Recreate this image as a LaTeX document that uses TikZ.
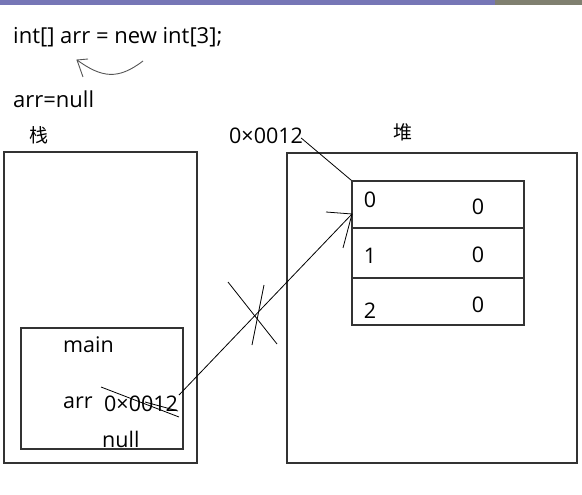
\documentclass[tikz,border=0pt]{standalone}
\usepackage{fontspec}
\setmainfont{Open Sans}
\newfontfamily\cjk{Noto Sans CJK SC}
\definecolor{barblue}{RGB}{118,118,182}
\definecolor{bargray}{RGB}{128,128,112}
\definecolor{pen}{RGB}{85,85,85}

\begin{document}
\begin{tikzpicture}[x=1pt,y=-1pt,every node/.style={inner sep=0pt,font=\fontsize{21.5}{25}\selectfont},
box/.style={draw=black!80,line width=1.3pt,rectangle},
ink/.style={line width=0.8pt,black}]
\useasboundingbox (0,0) rectangle (582,495);
\fill[barblue] (0,0) rectangle (495,5);
\fill[bargray] (495,0) rectangle (582,5);
% code lines
\node[anchor=base west,font=\fontsize{22}{25}\selectfont] (decl) at (13,44) {int[] arr = new int[3];};
\node[anchor=base west,font=\fontsize{22}{25}\selectfont] (setnull) at (13,108) {arr=null};
\draw[pen,line width=0.9pt] (143,61) .. controls (118,80) and (102,78) .. (77,60);
\draw[pen,line width=0.9pt] (88,59) -- (77,60) -- (83,77);
%-------------
\node[box,minimum width=193,minimum height=311] (stack) at (100.5,307.5) {};
\node[font=\cjk\fontsize{19}{22}\selectfont] (stacklbl) at (39,135) {栈};
\node[box,minimum width=162,minimum height=121] (frame) at (102,388.5) {};
\node[anchor=base west] (mainlbl) at (63,352) {main};
\node[anchor=base west] (arrlbl) at (63,408) {arr};
\node[anchor=base west] (addr) at (104,411) {0×0012};
\node[anchor=base west] (nulllbl) at (102,447) {null};
%------------
\node[box,minimum width=290,minimum height=310] (heap) at (432,308) {};
\node[font=\cjk\fontsize{19}{22}\selectfont] (heaplbl) at (403,132) {堆};
\node[anchor=base west] (addrtop) at (229,143) {0×0012};
\node[box,minimum width=172,minimum height=47] (cell0) at (438,204.5) {};
\node[box,minimum width=172,minimum height=50] (cell1) at (438,253) {};
\node[box,minimum width=172,minimum height=47] (cell2) at (438,301.5) {};
\foreach \n/\i/\ya/\yb in {0/0/200/207,1/1/256/255,2/2/311/305}{
\node (idx\n) at (370,\ya) {\i};
\node (val\n) at (478,\yb) {0};
}
%------------
\coordinate (from) at (179,395);
\coordinate (hit) at (352,214);
\draw[ink] (from) -- (hit);
\draw[ink] (326,212) -- (hit) -- (343,248);
\draw[ink] (addrtop.base east) ++(-2,-5) -- (cell0.north west);
\foreach \from/\to in {{(101,387)}/{(179,417)},{(145,402)}/{(178,411)},
{(228,282)}/{(277,344)},{(264,285)}/{(252,345)}}
\draw[ink] \from -- \to;
\end{tikzpicture}
\end{document}
